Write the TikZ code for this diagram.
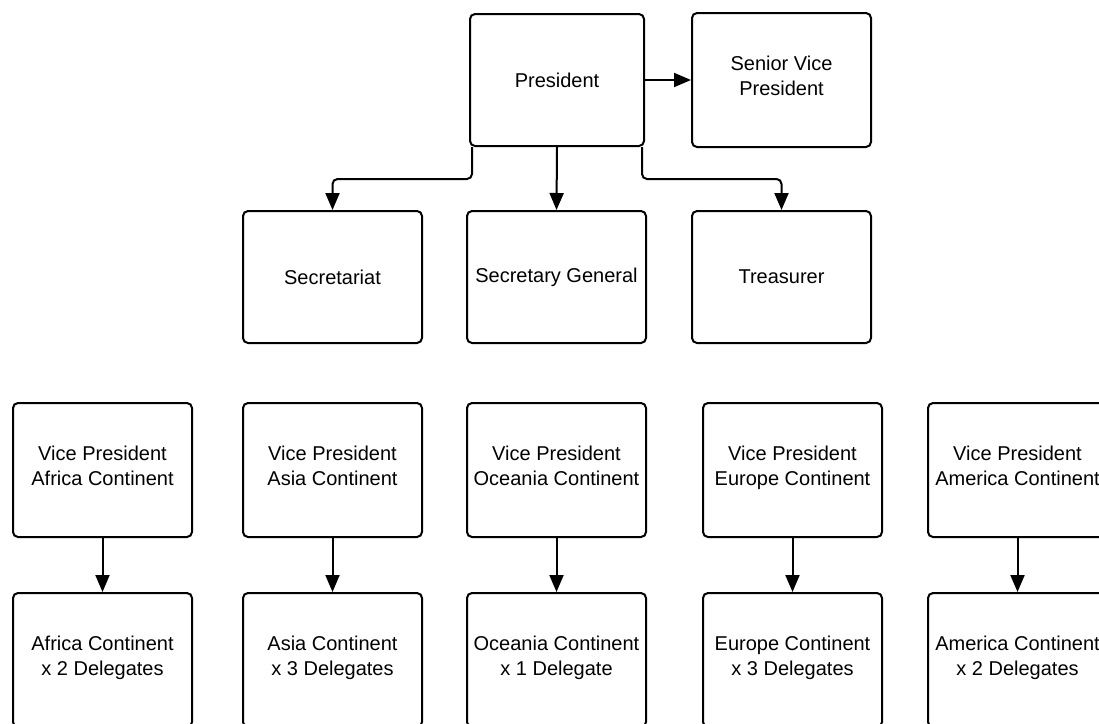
\documentclass[tikz,border=0pt]{standalone}
\usepackage{fontspec}
\setmainfont{Liberation Sans}
\usetikzlibrary{arrows.meta}
\begin{document}
\begin{tikzpicture}[x=1pt,y=-1pt,
  box/.style={draw=black, line width=2pt, rounded corners=5pt, fill=white,
    minimum width=179pt, minimum height=134pt, align=center, inner sep=0pt,
    font=\fontsize{20}{25}\selectfont},
  conn/.style={line width=2pt, -{Triangle[length=17pt,width=14pt]}, rounded corners=5pt}]
\useasboundingbox (0,0) rectangle (1099,723);
\clip (0,0) rectangle (1099,723);
% top row
\node[box, minimum width=174pt, minimum height=132pt] (pres) at (557,80) {President};
\node[box] (svp) at (781.5,80) {Senior Vice\\President\\[-17pt]};
% second row
\node[box, minimum height=132pt] (sec) at (332.5,277) {Secretariat};
\node[box, minimum height=132pt] (sg) at (556.5,277) {Secretary General};
\node[box, minimum height=132pt] (tre) at (781.5,277) {Treasurer};
% VP row
\node[box] (vaf) at (102.5,470) {Vice President\\Africa Continent\\[-17pt]};
\node[box] (vas) at (332.5,470) {Vice President\\Asia Continent\\[-17pt]};
\node[box] (voc) at (556.5,470) {Vice President\\Oceania Continent\\[-17pt]};
\node[box] (veu) at (792.5,470) {Vice President\\Europe Continent\\[-17pt]};
\node[box] (vam) at (1017.5,470) {Vice President\\America Continent\\[-17pt]};
% delegates row
\node[box] (daf) at (102.5,660) {Africa Continent\\x 2 Delegates\\[-17pt]};
\node[box] (das) at (332.5,660) {Asia Continent\\x 3 Delegates\\[-17pt]};
\node[box] (doc) at (556.5,660) {Oceania Continent\\x 1 Delegate\\[-17pt]};
\node[box] (deu) at (792.5,660) {Europe Continent\\x 3 Delegates\\[-17pt]};
\node[box] (dam) at (1017.5,660) {America Continent\\x 2 Delegates\\[-17pt]};
% connectors
\draw[conn] (pres.east) -- (svp.west);
\draw[conn] ([xshift=3pt]pres.south west) -- ++(0,32) -| (sec.north);
\draw[conn] (pres.south) -- (sg.north);
\draw[conn] ([xshift=-3pt]pres.south east) -- ++(0,32) -| (tre.north);
\draw[conn] (vaf) -- (daf);
\draw[conn] (vas) -- (das);
\draw[conn] (voc) -- (doc);
\draw[conn] (veu) -- (deu);
\draw[conn] (vam) -- (dam);
\end{tikzpicture}
\end{document}
